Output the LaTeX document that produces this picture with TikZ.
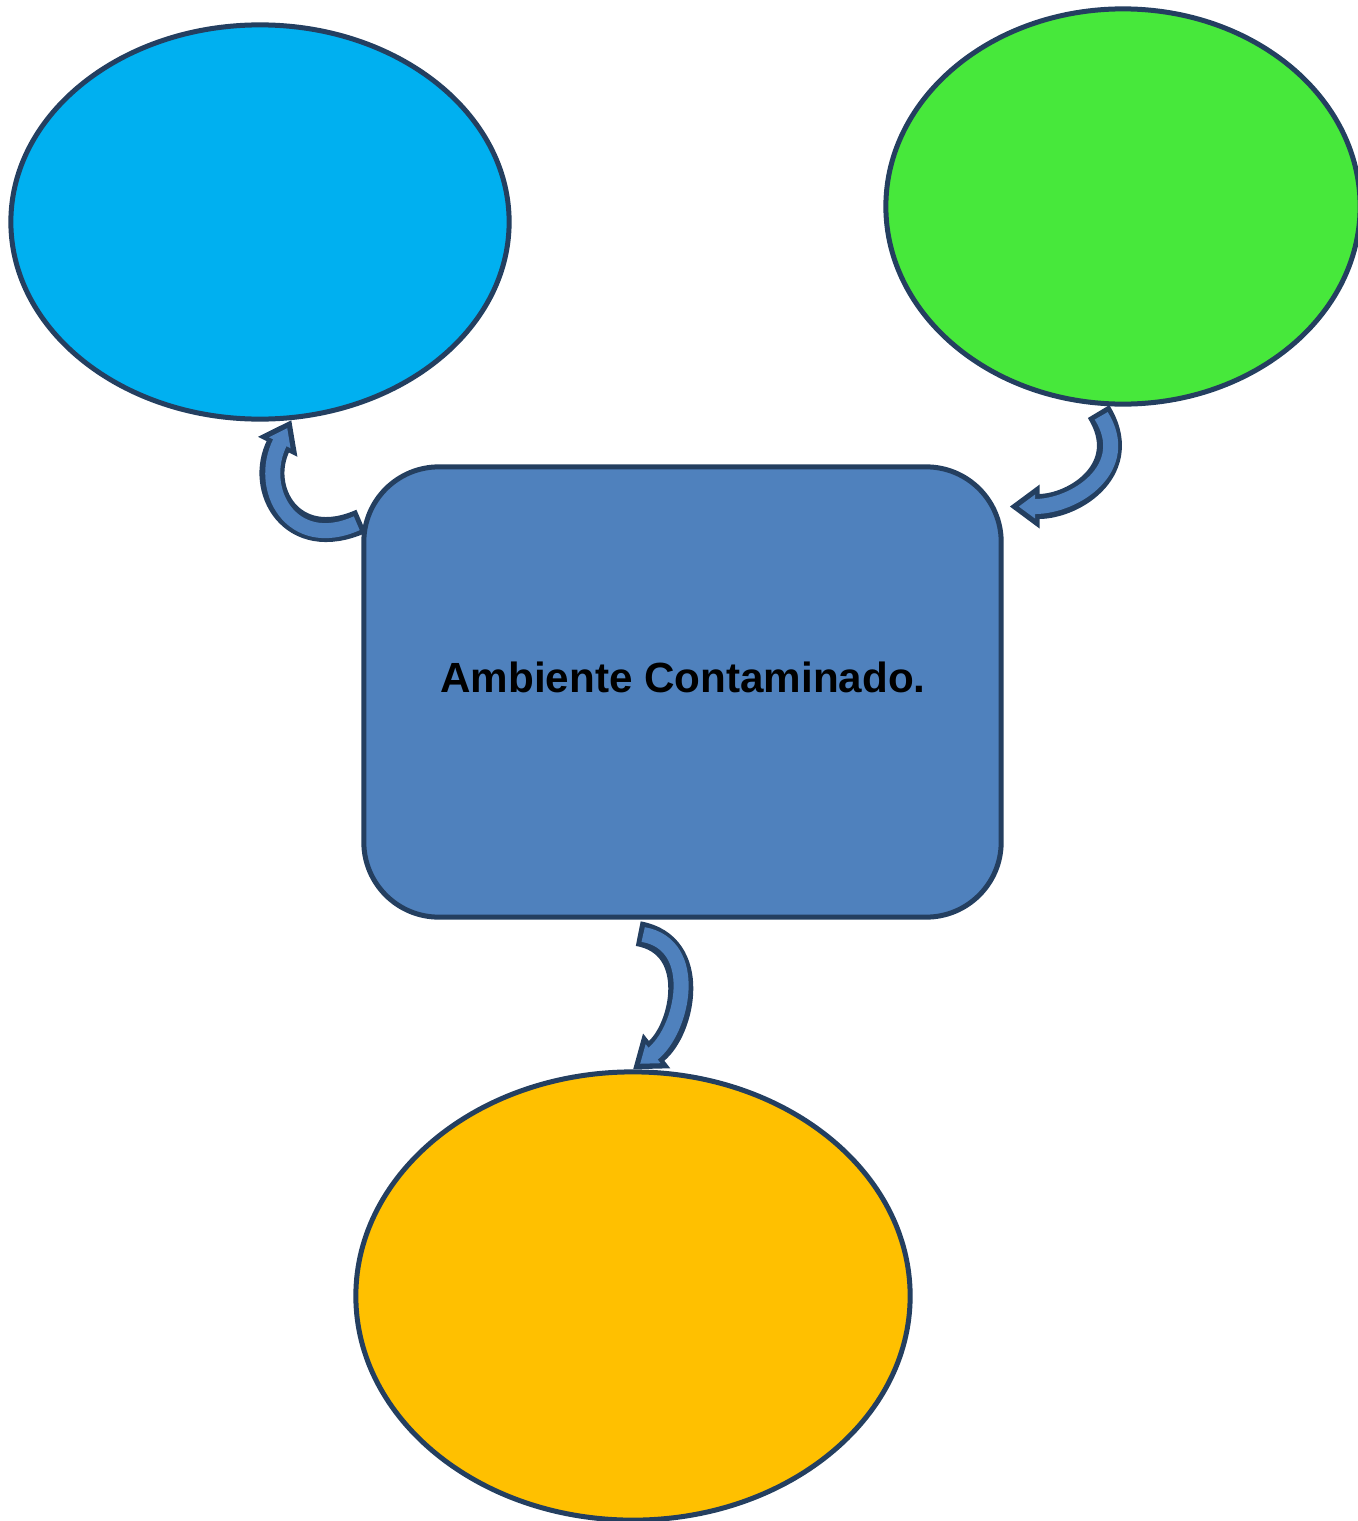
\documentclass[tikz,border=0pt]{standalone}
\usepackage{fontspec}
\setmainfont{Liberation Sans}
\usetikzlibrary{arrows.meta,shapes.geometric}
\definecolor{navy}{HTML}{243F60}
\definecolor{steel}{HTML}{4F81BD}
\definecolor{sky}{HTML}{00B0F0}
\definecolor{lime}{HTML}{47E83B}
\definecolor{amber}{HTML}{FFC000}
\tikzset{
  blob/.style={ellipse, draw=navy, line width=0.05cm, inner sep=0pt},
  card/.style={rectangle, rounded corners=0.75cm, draw=navy, fill=steel, line width=0.05cm,
    minimum width=6.37cm, minimum height=4.5cm},
  rim/.style={draw=navy, line width=0.25cm, -{Triangle[length=0.3cm,width=0.42cm]}},
  core/.style={draw=steel, line width=0.15cm, shorten <=0.05cm, shorten >=0.09cm,
    -{Triangle[length=0.165cm,width=0.23cm]}},
}
\begin{document}
\begin{tikzpicture}[x=0.01cm,y=0.01cm]
\useasboundingbox (0,0) rectangle (1358,-1521);
\node[card] (1) at (682.5,-692) {};
\node[blob, fill=sky, minimum width=4.98cm, minimum height=3.94cm] (2) at (260,-222) {};
\node[blob, fill=lime, minimum width=4.74cm, minimum height=3.95cm] (3) at (1123,-206.5) {};
\node[blob, fill=amber, minimum width=5.54cm, minimum height=4.48cm] (4) at (633,-1296) {};
\node[font=\bfseries\fontsize{12}{14}\selectfont] (5) at (683,-677) {Ambiente Contaminado.};
\foreach \s in {rim,core} {
  \draw[\s] (1.152) to[out=204, in=-117, looseness=1.6] (2.-81);
  \draw[\s] ([yshift=-0.06cm]3.-97) to[out=-58, in=0, looseness=1.3] ([xshift=0.06cm]1.30);
  \draw[\s] ([yshift=-0.14cm]1.-101) to[out=-10, in=38, looseness=1.2] (4.north);
}
\end{tikzpicture}
\end{document}
